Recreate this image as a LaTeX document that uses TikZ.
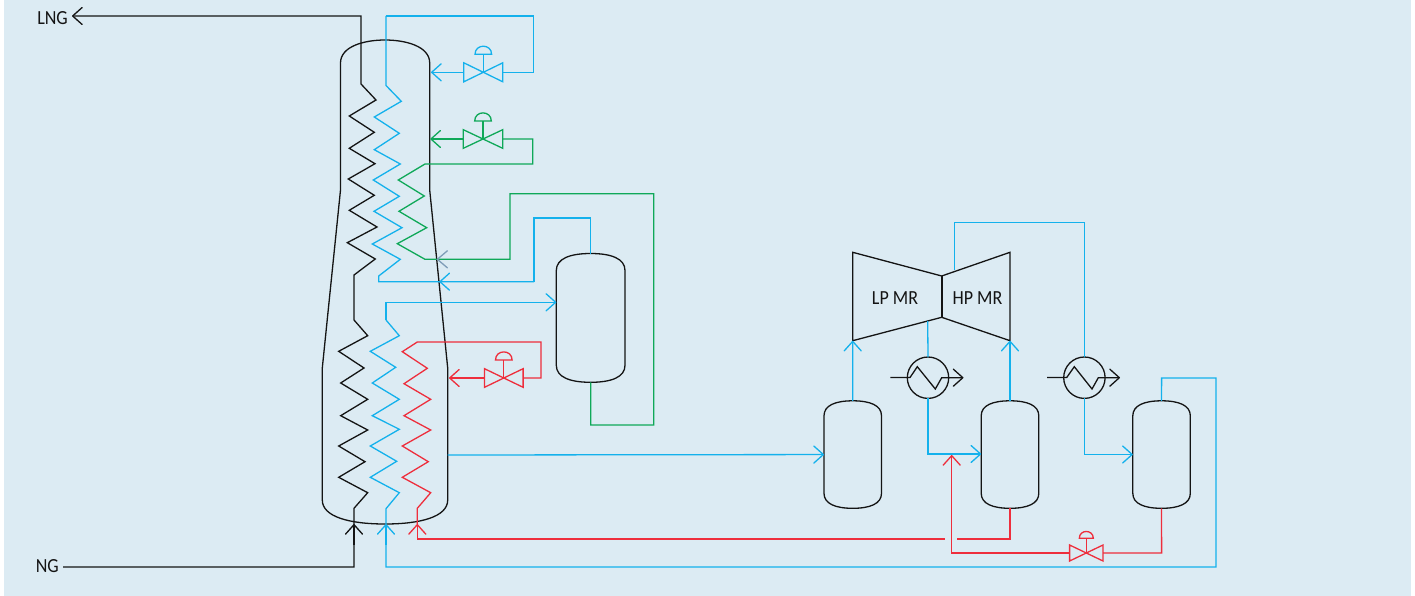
\documentclass[tikz,border=0pt]{standalone}
\usepackage{fontspec}
\setmainfont[FakeStretch=0.9]{Carlito}
\usetikzlibrary{arrows.meta,calc}
\definecolor{bgc}{HTML}{DCEBF3}
\definecolor{cblue}{HTML}{14B1EC}
\definecolor{cgreen}{HTML}{0FA858}
\definecolor{cred}{HTML}{EE2E3C}
\definecolor{cblack}{HTML}{141414}
\definecolor{cgrey}{HTML}{7F9DB8}
\tikzset{
  flow/.style={line width=1.3pt,line join=miter,line cap=butt},
  blk/.style={flow,draw=cblack},
  blu/.style={flow,draw=cblue},
  grn/.style={flow,draw=cgreen},
  rd/.style={flow,draw=cred},
  barb/.style={-{Straight Barb[length=9.5pt,width=17pt,round]}},
  barbgrey/.style={-{Straight Barb[length=10pt,width=17pt,round,color=cgrey]}},
  lbl/.style={font=\fontsize{20}{22}\selectfont,text=cblack,inner sep=0pt},
}
% name, xl, xr, ytop, ybottom, shoulder
\newcommand\vesselshape[6]{%
  \pgfmathsetmacro\vcx{(#2+#3)/2}%
  \pgfmathsetmacro\vcy{(#4+#5)/2}%
  \pgfmathsetmacro\vw{#3-#2}%
  \pgfmathsetmacro\vh{#5-#4}%
  \node[inner sep=0pt,outer sep=0pt,minimum width=\vw pt,minimum height=\vh pt] (#1) at (\vcx,\vcy) {};
  \draw[blk] (#2,#4+#6) .. controls (#2,#4+0.3*#6) and (\vcx-0.3*\vw,#4) .. (\vcx,#4)
     .. controls (\vcx+0.3*\vw,#4) and (#3,#4+0.3*#6) .. (#3,#4+#6)
     -- (#3,#5-#6) .. controls (#3,#5-0.3*#6) and (\vcx+0.3*\vw,#5) .. (\vcx,#5)
     .. controls (\vcx-0.3*\vw,#5) and (#2,#5-0.3*#6) .. (#2,#5-#6) -- cycle;
}
% name, cx, cy, halfwidth, halfheight, stem, domeradius, style
\newcommand\valveshape[8]{%
  \pgfmathsetmacro\vvw{2*#4}%
  \node[inner sep=0pt,outer sep=0pt,minimum width=\vvw pt,minimum height=1pt] (#1) at (#2,#3) {};
  \draw[#8] (#2,#3) -- (#2-#4,#3-#5) -- (#2-#4,#3+#5) -- cycle;
  \draw[#8] (#2,#3) -- (#2+#4,#3-#5) -- (#2+#4,#3+#5) -- cycle;
  \draw[#8] (#2,#3) -- (#2,#3-#6);
  \draw[#8] (#2-#7,#3-#6) -- (#2+#7,#3-#6) .. controls (#2+#7,#3-#6-1.3*#7) and (#2-#7,#3-#6-1.3*#7) .. cycle;
}
\begin{document}
\begin{tikzpicture}[x=1pt,y=-1pt]
\useasboundingbox (0,0) rectangle (1415,596);
\fill[bgc] (4,0) rectangle (1411,596);

% main column
\draw[blk] (340.5,63) .. controls (340.5,46) and (365,40) .. (385,40)
  .. controls (405,40) and (429.7,46) .. (429.7,63)
  -- (429.7,190) -- (447.7,368) -- (447.7,500)
  .. controls (447.7,517) and (420,524) .. (385,524)
  .. controls (350,524) and (322.3,517) .. (322.3,500)
  -- (322.3,368) -- (340.5,190) -- cycle;
\coordinate (colB) at (354,524);
\coordinate (colU) at (386,524);
\coordinate (colR) at (417.3,524);
\coordinate (colTop) at (431,72.3);
\coordinate (colGreen) at (430.3,139);
\coordinate (colGreen2) at (436.7,259.3);
\coordinate (colBlue2) at (439.3,281.7);
\coordinate (colRed) at (449,378);
\coordinate (colOut) at (447.7,455);

% labels
\node[lbl,anchor=east] (lng) at (68,18) {LNG};
\node[lbl,anchor=east] (ng) at (59,566.5) {NG};
\coordinate (lngTip) at (72,16);
\coordinate (ngEnd) at (63,567);

% vessels
\vesselshape{sep}{556.3}{625}{253.5}{382.3}{17}
\vesselshape{va}{824}{881.5}{400.8}{508.3}{15}
\vesselshape{vb}{981.2}{1038.8}{400.8}{508.3}{15}
\vesselshape{vc}{1132.8}{1190.3}{400.8}{508.3}{15}

% compressors
\draw[blk] (941.7,276) -- (852.7,252.3) -- (852.7,340.7) -- (941.7,317.3);
\draw[blk] (941.7,276) -- (1010,252.3) -- (1010,340.7) -- (941.7,317.3);
\draw[flow,draw=cblack,line width=1.8pt] (941.7,276) -- (941.7,317.3);
\coordinate (lpIn) at (852.7,340.7);
\coordinate (hpIn) at (1010,340.7);
\coordinate (lpOut) at (927.7,321);
\coordinate (hpOut) at (954.7,270);
\node[lbl] (lp) at (895,298.5) {LP MR};
\node[lbl] (hp) at (977.5,298.5) {HP MR};

% exchangers
\node[draw=cblack,line width=1.3pt,circle,minimum size=41.4pt,inner sep=0pt,outer sep=0pt] (ex1) at (928,377.7) {};
\node[draw=cblack,line width=1.3pt,circle,minimum size=41.4pt,inner sep=0pt,outer sep=0pt] (ex2) at (1084.4,377.7) {};
\coordinate (ex1a) at (890.3,377.5);
\coordinate (ex1b) at (963.5,377.7);
\coordinate (ex2a) at (1047,377.5);
\coordinate (ex2b) at (1120,377.7);
\draw[blk,barb] (ex1a) -- (910,377.5) -- (917.3,366.7) -- (935.3,389) -- (941.7,377.7) -- (ex1b);
\draw[blk,barb] (ex2a) -- (1066.7,377.5) -- (1074.3,366.7) -- (1092,389) -- (1098.3,377.7) -- (ex2b);

% valves
\valveshape{vl1}{483.3}{72.3}{19.5}{9.5}{18}{8.3}{blu}
\valveshape{vl2}{483}{139}{19.7}{9.3}{18}{8.3}{grn}
\valveshape{vl3}{503.8}{378}{19.3}{9.3}{18}{8.3}{rd}
\valveshape{vl4}{1086.3}{553}{16.7}{8}{14.7}{7}{rd}

% black coils and product lines
\draw[blk,barb] (ngEnd) -- (354,567) -- (354,508.3) -- (367.7,492.7) -- (338.7,477.3)
  -- (365,461.7) -- (338.7,446) -- (367.7,430) -- (340.7,415.7) -- (367.7,399.3) -- (340.7,383)
  -- (364,368) -- (338.7,351.3) -- (367.7,335.7) -- (354,320) -- (354,275) -- (375.3,259)
  -- (347.3,242.7) -- (377,227) -- (349.3,210.3) -- (374.3,195.3) -- (348.3,179) -- (375,163.7)
  -- (349.3,148.3) -- (374.3,132.3) -- (349.3,116) -- (376,100) -- (361,84) -- (361,16) -- (lngTip);
\draw[blk,barb] (354,545) -- (colB);

% blue coils
\draw[blu,barb] (colOut) -- (va.west);
\draw[blu] (386,16) -| (533.3,72.3) -- (vl1.east);
\draw[blu,barb] (vl1.west) -- (colTop);
\draw[blu] (386,16) -- (386,85.5) -- (401.3,101.3) -- (374.3,117) -- (399.3,133.3) -- (374.3,149.7)
  -- (400.3,164) -- (373.3,180) -- (399.3,196.3) -- (374,211.3) -- (402,227.7) -- (372.3,244)
  -- (400.3,259.3) -- (378.7,276) -- (378.7,281.7) -- (534,281.7);
\draw[blu,barb] (534,281.7) -- (colBlue2);
\draw[blu] (534,281.7) -- (534,218) -- (590.65,218) -- (sep.north);
\draw[blu,barb] (386,320) -- (386,302.3) -- (sep.west |- 0,302.3);
\draw[blu] (386,320) -- (399.3,335.7) -- (370.3,351.3) -- (395.7,367.3) -- (372.3,383) -- (399.3,399.3)
  -- (372.3,415.7) -- (399.3,429.3) -- (370.3,446) -- (396.7,461.3) -- (370.3,477.3) -- (399.3,492.7)
  -- (386,508.7) -- (colU);
\draw[blu,barb] (386,545) -- (colU);
\draw[blu] (386,545) -- (386,567) -- (1216,567) -- (1216,378) -- (1161.6,378) -- (vc.north);
\draw[blu,barb] (va.north) -- (lpIn);
\draw[blu,barb] (vb.north) -- (hpIn);
\draw[blu] (lpOut) -- (ex1.north);
\draw[blu,barb] (ex1.south) -- (928,454) -- (vb.west |- 0,454);
\draw[blu] (hpOut) -- (954.7,222.7) -- (1084.4,222.7) -- (ex2.north);
\draw[blu,barb] (ex2.south) -- (1084.4,454.5) -- (vc.west |- 0,454.5);

% green
\draw[grn,barb] (vl2.west) -- (colGreen);
\draw[grn] (vl2.east) -- (532.7,139) -- (532.7,164) -- (425,164) -- (398.3,180) -- (424.3,196) -- (399,211.3)
  -- (426.7,227.7) -- (397.3,243.7) -- (425,259.3) -- (510,259.3) -- (510,193.7) -- (653.7,193.7)
  -- (653.7,425) -- (590.65,425) -- (sep.south);
\draw[grn,barbgrey] (460,259.3) -- (colGreen2);

% red
\draw[rd] (vl3.east) -- (541,378) -- (541,342) -- (417.3,342) -- (402.3,351.7) -- (427.3,368.3) -- (404,383.7)
  -- (430.7,399.3) -- (404,415.7) -- (430.7,430) -- (402.3,446) -- (428.3,461.7) -- (402.3,477.3)
  -- (430.7,492.7) -- (417.3,508.3) -- (colR);
\draw[rd,barb] (vl3.west) -- (colRed);
\draw[rd,barb] (417.3,539) -- (colR);
\draw[rd] (417.3,539) -- (945,539);
\draw[rd] (957.3,539) -- (1010,539) -- (vb.south);
\draw[rd,barb] (vl4.west) -- (951.7,553) -- (951.7,455);
\draw[rd] (vl4.east) -- (1161.6,553) -- (vc.south);
\end{tikzpicture}
\end{document}
